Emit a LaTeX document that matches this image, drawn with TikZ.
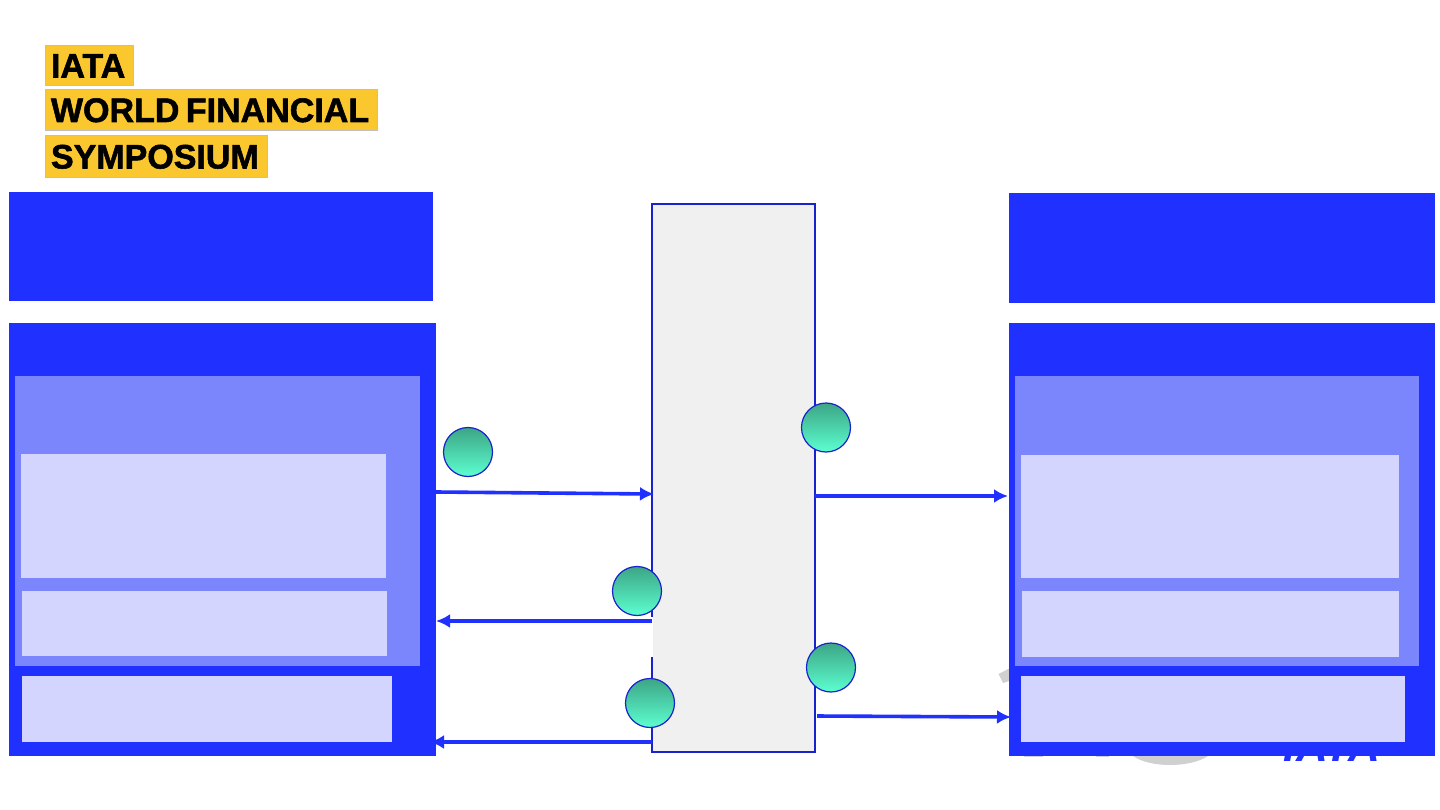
\documentclass[tikz,border=0pt]{standalone}
\usepackage{fontspec}
\setmainfont[BoldFeatures={FakeBold=1.6}]{Liberation Sans}
\usetikzlibrary{positioning}
\usetikzlibrary{arrows.meta}
\definecolor{iatablue}{HTML}{1F30FF}
\definecolor{midblue}{HTML}{7B85FC}
\definecolor{paleblue}{HTML}{D3D5FF}
\definecolor{hubline}{HTML}{1A22CC}
\definecolor{hubfill}{HTML}{F0F0F0}
\definecolor{tagyellow}{HTML}{FAC72F}
\definecolor{markgray}{HTML}{D0D0D0}
\definecolor{badgetop}{HTML}{3DA585}
\definecolor{badgemid}{HTML}{4CE0B0}
\definecolor{badgebottom}{HTML}{5CFFD0}
\tikzset{
	panel/.style = {rectangle, inner sep=0pt, outer sep=0pt, anchor=north west},
	outerbox/.style = {panel, fill=iatablue},
	midbox/.style = {panel, fill=midblue},
	innerbox/.style = {panel, fill=paleblue},
	hubbox/.style = {panel, fill=hubfill, draw=hubline, line width=1.3pt},
	tag/.style = {panel, fill=tagyellow, draw=black!25, line width=0.4pt, inner xsep=6pt,
		align=left, text height=24.4pt, text depth=0pt, text=black,
		font=\fontsize{34}{34}\selectfont\bfseries},
	badge/.style = {circle, minimum size=49pt, inner sep=0pt, draw=hubline, line width=1.2pt,
		top color=badgetop, middle color=badgemid, bottom color=badgebottom},
	flow/.style = {-{Latex[length=14pt,width=14pt]}, draw=iatablue, line width=3.6pt},
}
\begin{document}
\begin{tikzpicture}[x=1pt,y=-1pt]
	\useasboundingbox (0,0) rectangle (1440,810);
	% logo behind the right panel
	\fill[markgray] (998.5,674) -- (1012,667) -- (1012,680) -- (1003,683) -- cycle;
	\fill[markgray] (1133,756) .. controls (1150,768) and (1190,768) .. (1208,756) -- cycle;
	\fill[markgray] (1024,750) rectangle (1043,756.8);
	\fill[markgray] (1096,750) rectangle (1109,756.8);
	\node (logotext) [anchor=base, text=iatablue, font=\fontsize{44}{44}\selectfont\bfseries\itshape] at (1332,761.5) {IATA};
	% title
	\node (title1) [tag, text width=76.3pt, minimum height=40.6pt] at (45,45) {IATA};
	\node (title2) [tag, text width=320.3pt, minimum height=41.6pt] at (45,89) {WORLD\hspace{6.5pt}FINANCIAL};
	\node (title3) [tag, text width=210.3pt, minimum height=42.6pt] at (45,135) {SYMPOSIUM};
	% left side
	\node (lefttop) [outerbox, minimum width=424pt, minimum height=109pt] at (9,192) {};
	\node (leftouter) [outerbox, minimum width=427pt, minimum height=433pt] at (9,323) {};
	\node (leftmid) [midbox, minimum width=405pt, minimum height=290pt] at (15,376) {};
	\node (leftin1) [innerbox, minimum width=365pt, minimum height=124pt] at (21,454) {};
	\node (leftin2) [innerbox, minimum width=365pt, minimum height=65pt] at (22,591) {};
	\node (leftin3) [innerbox, minimum width=370pt, minimum height=66pt] at (22,676) {};
	% right side
	\node (righttop) [outerbox, minimum width=426pt, minimum height=110pt] at (1009,193) {};
	\node (rightouter) [outerbox, minimum width=426pt, minimum height=433pt] at (1009,323) {};
	\node (rightmid) [midbox, minimum width=404pt, minimum height=290pt] at (1015,376) {};
	\node (rightin1) [innerbox, minimum width=378pt, minimum height=123pt] at (1021,455) {};
	\node (rightin2) [innerbox, minimum width=377pt, minimum height=66pt] at (1022,591) {};
	\node (rightin3) [innerbox, minimum width=384pt, minimum height=66pt] at (1021,676) {};
	% centre
	\node (hub) [hubbox, minimum width=163pt, minimum height=548pt] at (652,204) {};
	\node (gap) [panel, fill=white, minimum width=2.5pt, minimum height=40pt] at (650.5,617) {};
	\node (gapb) [panel, fill=hubfill, minimum width=2.5pt, minimum height=40pt] at (653,617) {};
	% arrows
	\draw[flow, shorten >=-2pt] (leftouter.east |- 0,492) -- (hub.west |- 0,494);
	\draw[flow, shorten >=1pt] (hub.east |- 0,496) -- (righttop.west |- 0,496);
	\draw[flow] (hub.west |- 0,621) -- (leftouter.east |- 0,621);
	\draw[flow, shorten >=-6pt] (hub.west |- 0,742) -- (leftouter.east |- 0,742);
	\draw[flow, shorten <=2pt, shorten >=-2pt] (hub.east |- 0,716) -- (rightouter.west |- 0,717);
	% badges
	\node (badge1) [badge] at (468,452) {};
	\node (badge2) [badge] at (826,427.5) {};
	\node (badge3) [badge] at (637,591) {};
	\node (badge4) [badge] at (831,667.5) {};
	\node (badge5) [badge] at (650,703) {};
\end{tikzpicture}
\end{document}
